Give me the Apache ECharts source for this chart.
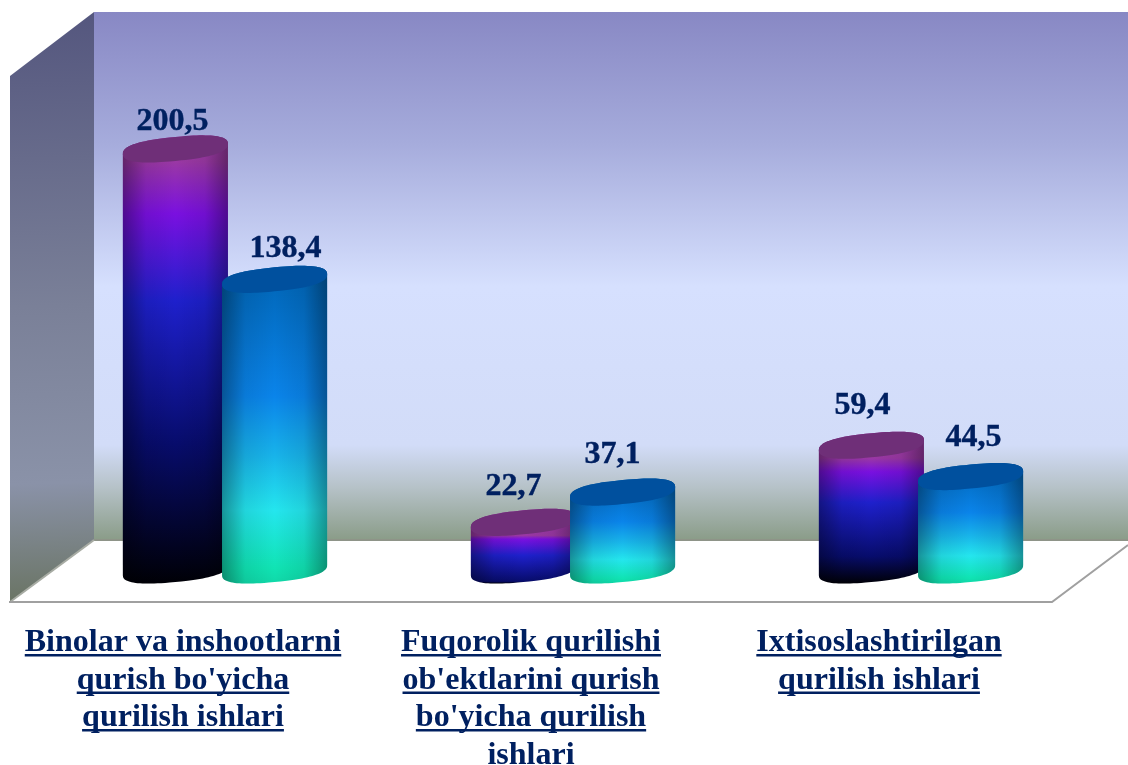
<!DOCTYPE html>
<html><head><meta charset="utf-8">
<style>html,body{margin:0;padding:0;background:#fff}#c{width:1128px;height:765px}</style>
<script src="https://cdn.jsdelivr.net/npm/echarts@6/dist/echarts.min.js"></script>
</head><body><div id="c"></div>
<script>
const categories = [
  "Binolar va inshootlarni\nqurish bo'yicha\nqurilish ishlari",
  "Fuqorolik qurilishi\nob'ektlarini qurish\nbo'yicha qurilish\nishlari",
  "Ixtisoslashtirilgan\nqurilish ishlari"
];
const seriesA = [200.5, 22.7, 59.4];
const seriesB = [138.4, 37.1, 44.5];

// label placement relative to the top of each cylinder (manual in the source chart)
const nudgeA = [[-3, -27], [-10, -36], [-9, -40]];
const nudgeB = [[11, -31], [-10, -37], [3, -39]];

const TEXT = '#002060';
const FONT = 'bold 32px "Liberation Serif"';
const LABEL_SHIFT = -42;

const skinA = {
  top: '#6f2f78',
  stops: h => [
    [0, '#a040a8'], [26 / h, '#9a38a4'], [(20 + .13 * h) / h, '#7a10e0'], [(22 + .32 * h) / h, '#1e20cc'],
    [Math.min(.97, (30 + .62 * h) / h), '#070c6c'], [1, '#000006']
  ]
};
const skinB = {
  top: '#00509e',
  stops: h => [
    [0, '#0064b4'], [.41, '#0a84ea'], [.6, '#18b4ea'], [.77, '#24e6ee'], [.95, '#10e4b4'], [1, '#10d8a8']
  ]
};

const pow = (c, e) => Math.sign(c) * Math.pow(Math.abs(c), e);

function cylinder(skin, side, nudge) {
  return function (params, api) {
    const i = api.value(0), v = api.value(1);
    const band = api.size([1, 0])[0];
    const R = band * 0.151, off = band * 0.1425 * side;
    const top = api.coord([i, v]), base = api.coord([i, 0]);
    const cx = top[0] + off, ty = top[1], by = base[1];
    const tilt = 5, depth = 12;
    const pt = (cy, t) => {
      const c = pow(Math.cos(t), 0.8), s = pow(Math.sin(t), 0.8);
      return [cx + R * c, cy - tilt * c + depth * s];
    };
    const N = 48, body = [], ell = [];
    for (let k = 0; k <= N; k++) body.push(pt(ty, Math.PI + Math.PI * k / N));
    for (let k = 0; k <= N; k++) body.push(pt(by, Math.PI * k / N));
    for (let k = 0; k < 2 * N; k++) ell.push(pt(ty, Math.PI * k / N));
    const h = by - ty + 2 * 12.5;
    const text = v.toFixed(1).replace('.', ',');
    return {
      type: 'group',
      children: [
        { type: 'polygon', shape: { points: body }, style: {
            fill: { type: 'linear', x: 0, y: 0, x2: 0, y2: 1,
              colorStops: skin.stops(h).map(s => ({ offset: Math.min(1, s[0]), color: s[1] })) } } },
        { type: 'polygon', shape: { points: body }, style: {
            fill: { type: 'linear', x: 0, y: 0, x2: 1, y2: 0, colorStops: [
              { offset: 0, color: 'rgba(0,0,0,.36)' }, { offset: .22, color: 'rgba(0,0,0,.08)' },
              { offset: .5, color: 'rgba(0,0,0,0)' }, { offset: .78, color: 'rgba(0,0,0,.08)' },
              { offset: 1, color: 'rgba(0,0,0,.36)' }] } } },
        { type: 'polygon', shape: { points: ell }, style: { fill: skin.top } },
        { type: 'text', x: cx + nudge[i][0], y: ty + nudge[i][1], style: {
            text: text, font: 'bold 32px "Liberation Serif"', fill: TEXT, stroke: TEXT, lineWidth: 0.4,
            align: 'center', verticalAlign: 'middle' } }
      ]
    };
  };
}

const measure = document.createElement('canvas').getContext('2d');
function underlines(params, api) {
  const i = api.value(0);
  const cx = api.coord([i, 0])[0] + LABEL_SHIFT;
  measure.font = FONT;
  const children = categories[i].split('\n').map((line, k) => {
    const w = measure.measureText(line).width;
    return { type: 'rect', shape: { x: cx - w / 2, y: 654 + k * 37.5, width: w, height: 2.5 }, style: { fill: TEXT } };
  });
  return { type: 'group', children };
}

const chart = echarts.init(document.getElementById('c'), null, { renderer: 'canvas' });
chart.setOption({
  animation: false,
  backgroundColor: '#fff',
  grid: { left: 51, right: 33, top: 45, bottom: 195, outerBoundsMode: 'none' },
  xAxis: {
    type: 'category', data: categories,
    axisLine: { show: false }, axisTick: { show: false },
    axisLabel: { interval: 0, margin: 54, color: TEXT, fontFamily: 'Liberation Serif', fontWeight: 'bold',
      fontSize: 32, lineHeight: 37.5, align: 'center', padding: [0, -2 * LABEL_SHIFT, 0, 0] }
  },
  yAxis: { type: 'value', min: 0, max: 250, show: false, splitLine: { show: false } },
  graphic: { elements: [
    { type: 'polygon', z: 1, shape: { points: [[94, 12], [1128, 12], [1128, 540], [94, 540]] }, style: {
        fill: { type: 'linear', x: 0, y: 0, x2: 0, y2: 1, colorStops: [
          { offset: 0, color: '#8888c4' }, { offset: .25, color: '#a6acdc' }, { offset: .52, color: '#d6e0fe' },
          { offset: .82, color: '#d2dcf8' }, { offset: .9, color: '#b6c2c8' }, { offset: 1, color: '#8a9c88' }] } } },
    { type: 'polygon', z: 1, shape: { points: [[10, 76], [94, 12], [94, 540], [10, 602]] }, style: {
        fill: { type: 'linear', x: 0, y: 0, x2: 0.25, y2: 1, colorStops: [
          { offset: 0, color: '#54567e' }, { offset: .5, color: '#7a8098' }, { offset: .8, color: '#8a92a8' },
          { offset: 1, color: '#6a7464' }] } } },
    { type: 'polyline', z: 2, shape: { points: [[94, 540], [1128, 540]] }, style: { stroke: '#8e9488', lineWidth: 2, fill: null } },
    { type: 'polyline', z: 2, shape: { points: [[10, 602], [94, 540]] }, style: { stroke: '#a8aca4', lineWidth: 2, fill: null } },
    { type: 'polyline', z: 2, shape: { points: [[9, 602], [1052, 602], [1128, 545]] }, style: { stroke: '#a0a0a0', lineWidth: 2, fill: null } }
  ] },
  series: [
    { type: 'custom', name: 'A', z: 3, clip: false, renderItem: cylinder(skinA, -1, nudgeA),
      data: seriesA.map((v, i) => [i, v]), encode: { x: 0, y: 1 } },
    { type: 'custom', name: 'B', z: 4, clip: false, renderItem: cylinder(skinB, 1, nudgeB),
      data: seriesB.map((v, i) => [i, v]), encode: { x: 0, y: 1 } },
    { type: 'custom', name: 'underline', z: 5, clip: false, silent: true, renderItem: underlines,
      data: categories.map((c, i) => [i, 0]), encode: { x: 0, y: 1 } }
  ]
});
</script></body></html>
